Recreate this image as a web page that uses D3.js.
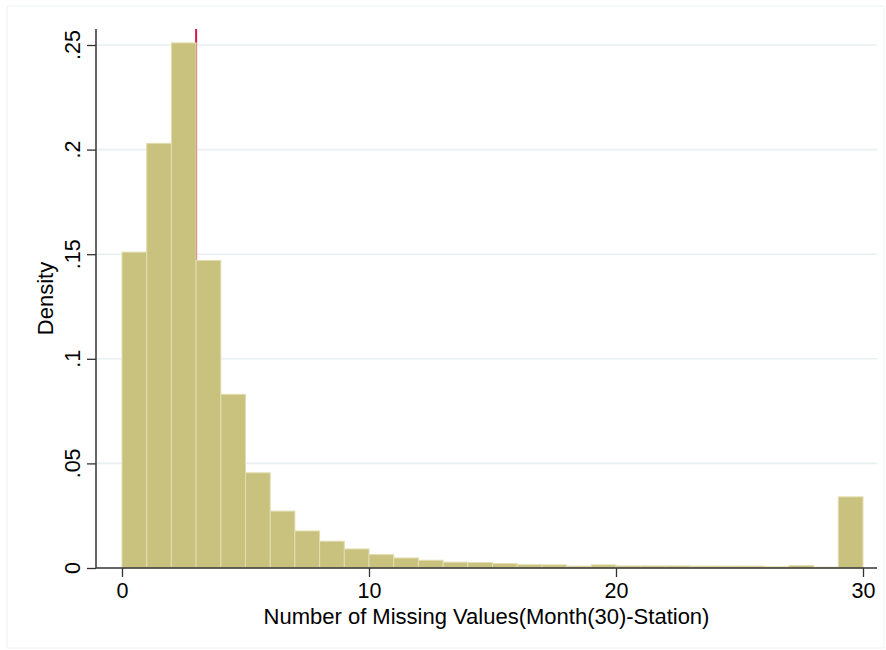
<!DOCTYPE html>
<html>
<head>
<meta charset="utf-8">
<script src="https://cdn.jsdelivr.net/npm/d3@7"></script>
<style>
  body { margin: 0; background: #fff; }
  svg { display: block; font-family: "Liberation Sans", Arial, sans-serif; }
</style>
</head>
<body>
<svg id="chart" width="886" height="650"></svg>
<script>
// bins of width 1 from 0 to 30 (left edges)
const binStarts = d3.range(0, 30);
const densities = [0.151, 0.203, 0.251, 0.147, 0.083, 0.0455, 0.0272, 0.0177, 0.0128, 0.0091,
                   0.0064, 0.0048, 0.0037, 0.0028, 0.0026, 0.0021, 0.0016, 0.0015, 0.0009, 0.0015,
                   0.0010, 0.0010, 0.0010, 0.0009, 0.0009, 0.0009, 0.0006, 0.0012, 0.0004, 0.0340];
const yTicks = [0, 0.05, 0.1, 0.15, 0.2, 0.25];
const yTickLabels = ["0", ".05", ".1", ".15", ".2", ".25"];
const xTicks = [0, 10, 20, 30];
const meanLine = 3;  // ligne verticale rouge

const svg = d3.select("#chart");

// cadre du graphique (très pâle)
svg.append("rect")
    .attr("x", 7).attr("y", 6)
    .attr("width", 877).attr("height", 642)
    .attr("fill", "none")
    .attr("stroke", "#f1f5f7")
    .attr("stroke-width", 1.2);

const plot = { left: 96, right: 877, top: 29, bottom: 568 };

const x = d3.scaleLinear().domain([0, 30]).range([122, 863]);
const y = d3.scaleLinear().domain([0, 0.25]).range([plot.bottom, 45]);

// grille horizontale
svg.append("g")
    .selectAll("line")
    .data(yTicks.filter(d => d > 0))
    .enter().append("line")
    .attr("x1", plot.left).attr("x2", plot.right)
    .attr("y1", d => y(d)).attr("y2", d => y(d))
    .attr("stroke", "#e8f0f2")
    .attr("stroke-width", 1.6);

// ligne rouge (sous les barres)
svg.append("line")
    .attr("x1", x(meanLine)).attr("x2", x(meanLine))
    .attr("y1", plot.top).attr("y2", plot.bottom)
    .attr("stroke", "#d8174a")
    .attr("stroke-width", 2);

// barres
svg.append("g")
    .selectAll("rect")
    .data(binStarts)
    .enter().append("rect")
    .attr("x", d => x(d))
    .attr("y", (d, i) => y(densities[i]))
    .attr("width", d => x(d + 1) - x(d))
    .attr("height", (d, i) => y(0) - y(densities[i]))
    .attr("fill", "#c9c27f")
    .attr("stroke", "#e2ddb0")
    .attr("stroke-width", 1);

// axe Y
const yAxis = svg.append("g")
    .attr("transform", `translate(${plot.left},0)`)
    .call(d3.axisLeft(y).tickValues(yTicks).tickSize(9).tickFormat(""));
yAxis.select(".domain").remove();
yAxis.selectAll(".tick line").attr("stroke", "#333").attr("stroke-width", 1.3);
svg.append("line")
    .attr("x1", plot.left).attr("x2", plot.left)
    .attr("y1", plot.top).attr("y2", plot.bottom)
    .attr("stroke", "#333").attr("stroke-width", 1.5);

svg.append("g")
    .selectAll("text")
    .data(yTicks)
    .enter().append("text")
    .attr("transform", d => `translate(80,${y(d)}) rotate(-90)`)
    .attr("text-anchor", "middle")
    .attr("font-size", "21.5px")
    .attr("fill", "#000")
    .text((d, i) => yTickLabels[i]);

// axe X
const xAxis = svg.append("g")
    .attr("transform", `translate(0,${plot.bottom})`)
    .call(d3.axisBottom(x).tickValues(xTicks).tickSize(9).tickPadding(6).tickFormat(d3.format("d")));
xAxis.select(".domain").remove();
xAxis.selectAll(".tick line").attr("stroke", "#333").attr("stroke-width", 1.3);
xAxis.selectAll(".tick text")
    .attr("font-size", "21.5px")
    .attr("font-family", "Liberation Sans, Arial, sans-serif")
    .attr("fill", "#000");
svg.append("line")
    .attr("x1", plot.left).attr("x2", plot.right)
    .attr("y1", plot.bottom).attr("y2", plot.bottom)
    .attr("stroke", "#333").attr("stroke-width", 1.5);

// titres
svg.append("text")
    .attr("x", (plot.left + plot.right) / 2)
    .attr("y", 624)
    .attr("text-anchor", "middle")
    .attr("font-size", "22px")
    .attr("fill", "#000")
    .text("Number of Missing Values(Month(30)-Station)");

svg.append("text")
    .attr("transform", `translate(53,${(plot.top + plot.bottom) / 2}) rotate(-90)`)
    .attr("text-anchor", "middle")
    .attr("font-size", "22px")
    .attr("fill", "#000")
    .text("Density");
</script>
</body>
</html>
